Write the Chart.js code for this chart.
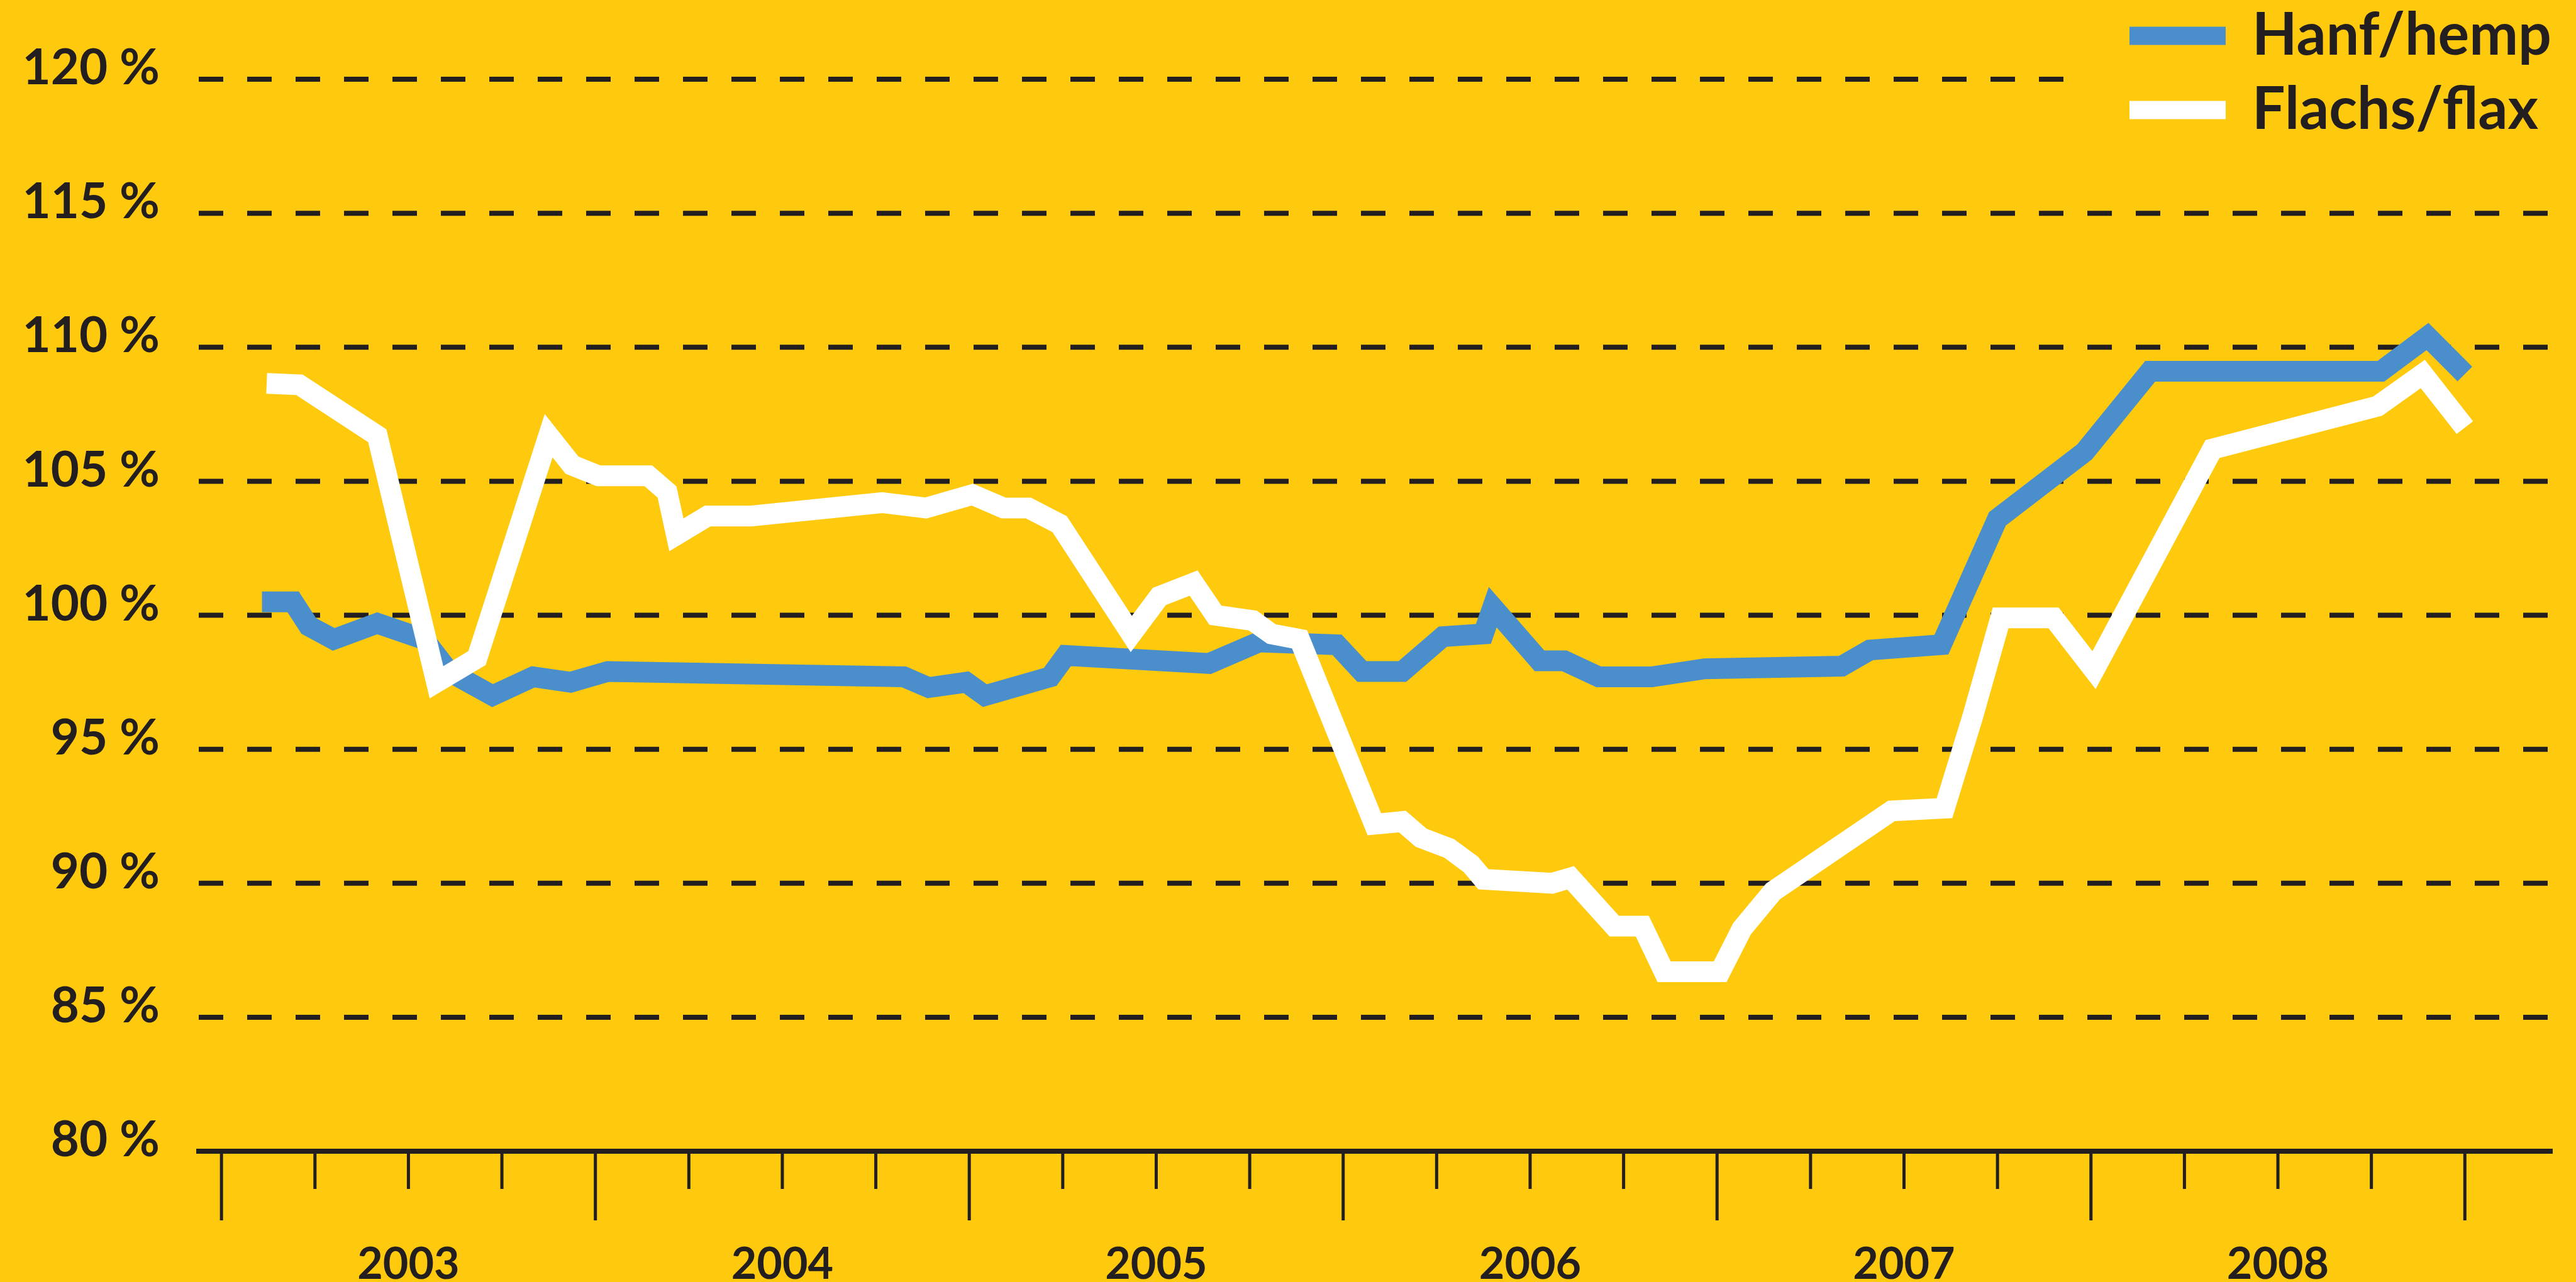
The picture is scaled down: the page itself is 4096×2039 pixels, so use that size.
<!DOCTYPE html>
<html>
<head>
<meta charset="utf-8">
<script src="https://cdn.jsdelivr.net/npm/chart.js@4.4.1/dist/chart.umd.min.js"></script>
<style>
  html, body { margin: 0; padding: 0; background: #FFC90D; }
  #wrap { width: 4096px; height: 2039px; position: relative; }
</style>
</head>
<body>
<div id="wrap"><canvas id="chart"></canvas></div>
<script>
// x = months since January 2003, y = index in %
const years = ['2003', '2004', '2005', '2006', '2007', '2008'];
const seriesNames = ['Hanf/hemp', 'Flachs/flax'];
const yTicks = [80, 85, 90, 95, 100, 105, 110, 115, 120];
const quarterMonths = [0, 3, 6, 9, 12, 15, 18, 21, 24, 27, 30, 33, 36, 39, 42, 45, 48, 51, 54, 57, 60, 63, 66, 69, 72];

const hempMonths = [1.3, 2.3, 2.8, 3.6, 5.0, 6.5, 7.3, 8.7, 10.0, 11.2, 12.4, 21.9, 22.7, 23.9, 24.5,
    26.6, 27.1, 31.7, 33.3, 35.8, 36.6, 37.9, 39.2, 40.5, 40.8, 42.3, 43.1, 44.2, 45.9, 47.6,
    52.0, 52.9, 55.2, 57.0, 59.8, 61.9, 69.3, 70.8, 72.0];
const hempValues = [100.5, 100.5, 99.6, 99.1, 99.7, 99.1, 97.9, 97.0, 97.7, 97.5, 97.9, 97.7, 97.3, 97.5, 97.0,
    97.7, 98.5, 98.2, 99.0, 98.9, 97.9, 97.9, 99.2, 99.3, 100.3, 98.3, 98.3, 97.7, 97.7, 98.0,
    98.1, 98.7, 98.9, 103.6, 106.1, 109.1, 109.1, 110.4, 109.0];

const flaxMonths = [1.45, 2.5, 5.0, 6.9, 8.2, 10.5, 11.25, 12.1, 13.7, 14.3, 14.6, 15.6, 17.0, 21.2, 22.6,
    24.1, 25.1, 25.9, 26.9, 29.2, 30.1, 31.2, 31.9, 33.1, 33.7, 34.6, 37.0, 37.9, 38.5, 39.4,
    40.1, 40.5, 42.7, 43.3, 44.7, 45.6, 46.3, 48.1, 48.8, 49.8, 53.6, 55.3, 56.2, 57.1, 58.8,
    60.1, 63.9, 69.2, 70.65, 72.0];
const flaxValues = [108.65, 108.6, 106.7, 97.5, 98.4, 106.7, 105.6, 105.2, 105.2, 104.6, 103.0, 103.7, 103.7, 104.2, 104.0,
    104.5, 104.0, 104.0, 103.4, 99.3, 100.7, 101.2, 100.0, 99.8, 99.3, 99.1, 92.2, 92.3, 91.7, 91.3,
    90.7, 90.15, 90.0, 90.2, 88.4, 88.4, 86.7, 86.7, 88.3, 89.7, 92.7, 92.8, 96.2, 99.9, 99.9,
    97.95, 106.2, 107.8, 109.0, 107.0];

const YELLOW = '#FFC90D';
const DARK = '#231F20';
const BLUE = '#4A8FCB';
const WHITE = '#FFFFFF';

function toPoints(xs, ys) {
    return xs.map((x, i) => ({ x: x, y: ys[i] }));
}

// Legend placement (top right, stacked)
const legendLayout = { fromRight: 710, rows: [57, 175], swatchW: 153, swatchH: 29, textGap: 195, fontSize: 93 };

const backgroundPlugin = {
    id: 'background',
    beforeDraw(chart) {
        const ctx = chart.ctx;
        ctx.save();
        ctx.fillStyle = YELLOW;
        ctx.fillRect(0, 0, chart.width, chart.height);
        ctx.restore();
    }
};

// dashed horizontal lines, the top one stops before the legend
const dashedGridPlugin = {
    id: 'dashedGrid',
    beforeDatasetsDraw(chart) {
        const { ctx, chartArea, scales } = chart;
        const legendLeft = chart.width - legendLayout.fromRight;
        ctx.save();
        ctx.strokeStyle = DARK;
        ctx.lineWidth = 8;
        ctx.setLineDash([39, 38]);
        scales.y.ticks.forEach(t => {
            if (t.value <= scales.y.min) return;
            const y = scales.y.getPixelForValue(t.value);
            const xEnd = t.value === scales.y.max ? legendLeft - 96 : chartArea.right;
            ctx.beginPath();
            ctx.moveTo(chartArea.left, y);
            ctx.lineTo(xEnd, y);
            ctx.stroke();
        });
        ctx.restore();
    }
};

// quarter ticks below the axis, longer ones at year boundaries
const quarterTicksPlugin = {
    id: 'quarterTicks',
    afterDraw(chart) {
        const { ctx, chartArea, scales } = chart;
        ctx.save();
        ctx.strokeStyle = DARK;
        ctx.lineWidth = 5;
        scales.x.ticks.forEach(t => {
            const v = t.value;
            const x = scales.x.getPixelForValue(v);
            const len = v % 12 === 0 ? 110 : 60;
            ctx.beginPath();
            ctx.moveTo(x, chartArea.bottom);
            ctx.lineTo(x, chartArea.bottom + len);
            ctx.stroke();
        });
        ctx.restore();
    }
};

const stackedLegendPlugin = {
    id: 'stackedLegend',
    afterDraw(chart) {
        const ctx = chart.ctx;
        const L = legendLayout;
        const x = chart.width - L.fromRight;
        ctx.save();
        ctx.font = `bold ${L.fontSize}px Lato`;
        ctx.textBaseline = 'middle';
        ctx.textAlign = 'left';
        chart.data.datasets.forEach((ds, i) => {
            const y = L.rows[i];
            ctx.fillStyle = ds.borderColor;
            ctx.fillRect(x, y - L.swatchH / 2, L.swatchW, L.swatchH);
            ctx.fillStyle = DARK;
            ctx.fillText(ds.label, x + L.textGap, y);
        });
        ctx.restore();
    }
};

function initChart() {
    const ctx = document.getElementById('chart').getContext('2d');
    Chart.defaults.font.family = 'Lato';

    new Chart(ctx, {
        type: 'line',
        data: {
            datasets: [
                {
                    label: seriesNames[0],
                    data: toPoints(hempMonths, hempValues),
                    borderColor: BLUE,
                    order: 1
                },
                {
                    label: seriesNames[1],
                    data: toPoints(flaxMonths, flaxValues),
                    borderColor: WHITE,
                    order: 0
                }
            ]
        },
        options: {
            responsive: true,
            maintainAspectRatio: false,
            devicePixelRatio: 1,
            animation: false,
            layout: { padding: { top: 126, right: 38, left: 0, bottom: 0 } },
            elements: {
                point: { radius: 0 },
                line: { tension: 0, borderWidth: 33, borderJoinStyle: 'miter', borderCapStyle: 'butt', fill: false }
            },
            plugins: {
                legend: { display: false },
                tooltip: { enabled: false }
            },
            scales: {
                x: {
                    type: 'linear',
                    min: -0.73,
                    max: 74.8,
                    grid: { display: true, drawOnChartArea: false, drawTicks: false },
                    border: { display: true, color: DARK, width: 8 },
                    afterBuildTicks: s => { s.ticks = quarterMonths.map(v => ({ value: v })); },
                    ticks: {
                        autoSkip: false,
                        maxRotation: 0,
                        padding: 138,
                        color: DARK,
                        font: { size: 70, weight: 'bold' },
                        callback: v => (v % 12 === 6 ? years[(v - 6) / 12] : '')
                    },
                    afterFit: s => {
                        s.height = 208;
                        s.paddingLeft = 0;
                        s.paddingRight = 0;
                    }
                },
                y: {
                    min: yTicks[0],
                    max: yTicks[yTicks.length - 1],
                    grid: { display: false },
                    border: { display: false },
                    afterBuildTicks: s => { s.ticks = yTicks.map(v => ({ value: v })); },
                    ticks: {
                        padding: 54,
                        labelOffset: -17,
                        color: DARK,
                        font: { size: 78, weight: 'bold' },
                        callback: v => v + ' %'
                    },
                    afterFit: s => { s.width = 316; }
                }
            }
        },
        plugins: [backgroundPlugin, dashedGridPlugin, quarterTicksPlugin, stackedLegendPlugin]
    });
}

document.addEventListener('DOMContentLoaded', () => {
    initChart();
});
</script>
</body>
</html>
